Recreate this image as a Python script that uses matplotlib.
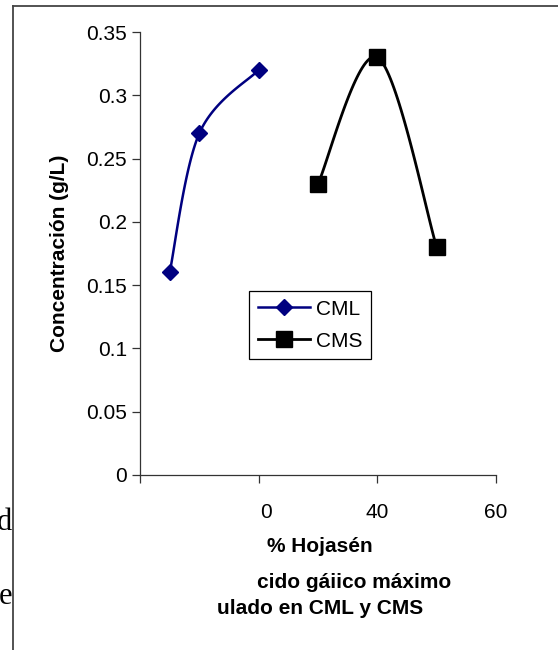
import numpy as np
import matplotlib
matplotlib.use("Agg")
import matplotlib.pyplot as plt
from matplotlib.lines import Line2D
from matplotlib.transforms import ScaledTranslation

plt.rcParams['font.family'] = ['Liberation Sans', 'DejaVu Sans']

# Data
cml_x = [5, 10, 20]
cml_y = [0.16, 0.27, 0.32]
cms_x = [30, 40, 50]
cms_y = [0.23, 0.33, 0.18]

x_ticks = [0, 20, 40, 60]
x_ticklabels = ["", "0", "40", "60"]
y_ticks = [0, 0.05, 0.1, 0.15, 0.2, 0.25, 0.3, 0.35]
y_ticklabels = ["0", "0.05", "0.1", "0.15", "0.2", "0.25", "0.3", "0.35"]


def smooth(xs, ys, sx, sy, n=40):
    """Catmull-Rom style Bezier smoothing computed in screen-like units."""
    p = np.column_stack([np.asarray(xs, float) * sx, np.asarray(ys, float) * sy])
    ext = np.vstack([p[0], p, p[-1]])
    out = []
    t = np.linspace(0, 1, n)[:, None]
    for i in range(len(p) - 1):
        p0, p1, p2, p3 = ext[i], ext[i + 1], ext[i + 2], ext[i + 3]
        c1 = p1 + (p2 - p0) / 6.0
        c2 = p2 - (p3 - p1) / 6.0
        seg = ((1 - t) ** 3) * p1 + 3 * ((1 - t) ** 2) * t * c1 + 3 * (1 - t) * t ** 2 * c2 + t ** 3 * p2
        out.append(seg if i == 0 else seg[1:])
    out = np.vstack(out)
    return out[:, 0] / sx, out[:, 1] / sy


fig = plt.figure(figsize=(5.58, 6.5), dpi=100)
ax = fig.add_axes([140 / 558, 1 - 475 / 650, (496 - 140) / 558, (475 - 32) / 650])

ax.set_xlim(0, 60)
ax.set_ylim(0, 0.35)
sx = 356 / 60
sy = 443 / 0.35

navy = "#000080"
cx, cy = smooth(cml_x, cml_y, sx, sy)
ax.plot(cx, cy, color=navy, lw=1.8, solid_capstyle="round", clip_on=False)
ax.plot(cml_x, cml_y, ls="none", marker="D", ms=8, color=navy, clip_on=False)

mx, my = smooth(cms_x, cms_y, sx, sy)
ax.plot(mx, my, color="black", lw=2.0, solid_capstyle="round", clip_on=False)
ax.plot(cms_x, cms_y, ls="none", marker="s", ms=11, color="black", clip_on=False)

for side in ("top", "right"):
    ax.spines[side].set_visible(False)
for side in ("left", "bottom"):
    ax.spines[side].set_color("#333333")
    ax.spines[side].set_linewidth(0.9)

ax.set_xticks(x_ticks)
ax.set_xticklabels(x_ticklabels)
ax.set_yticks(y_ticks)
ax.set_yticklabels(y_ticklabels)
ax.tick_params(axis="both", direction="out", length=5.5, width=0.9, color="#333333",
               labelsize=15)
ax.tick_params(axis="x", pad=15)
ax.tick_params(axis="y", pad=4)
# shift the lone "0" label slightly right
lbl = ax.get_xticklabels()[1]
lbl.set_transform(lbl.get_transform() + ScaledTranslation(7 / 100, 0, fig.dpi_scale_trans))

ax.set_ylabel("Concentración (g/L)", fontsize=15, fontweight="bold", labelpad=12)

# Legend
handles = [
    Line2D([], [], color=navy, lw=1.8, marker="D", ms=8),
    Line2D([], [], color="black", lw=2.0, marker="s", ms=11),
]
leg = ax.legend(handles, ["CML", "CMS"], loc="upper left",
                bbox_to_anchor=((249 - 140) / 356, (475 - 291) / 443),
                fontsize=15, frameon=True, fancybox=False, framealpha=1,
                edgecolor="black", borderpad=0.42, handlelength=2.5,
                handletextpad=0.3, labelspacing=0.62, borderaxespad=0)
leg.get_frame().set_linewidth(0.9)


def ftext(px, py, s, **kw):
    fig.text(px / 558, 1 - py / 650, s, **kw)


ftext(320, 546, "% Hojasén", ha="center", va="center", fontsize=15, fontweight="bold")
ftext(354, 582, "cido gáiico máximo", ha="center", va="center", fontsize=15, fontweight="bold")
ftext(320, 608, "ulado en CML y CMS", ha="center", va="center", fontsize=15, fontweight="bold")

# fragments of surrounding page text
ftext(12, 522, "d", ha="right", va="center", fontsize=22, family="Liberation Serif")
ftext(12, 597, "e", ha="right", va="center", fontsize=22, family="Liberation Serif")

# page frame lines
frame_c = "#444444"
fig.add_artist(Line2D([13 / 558, 1.0], [1 - 6 / 650, 1 - 6 / 650], color=frame_c, lw=1.3,
                      transform=fig.transFigure))
fig.add_artist(Line2D([13 / 558, 13 / 558], [1 - 6 / 650, 0.0], color=frame_c, lw=1.3,
                      transform=fig.transFigure))

fig.savefig("out.png", dpi=100)
